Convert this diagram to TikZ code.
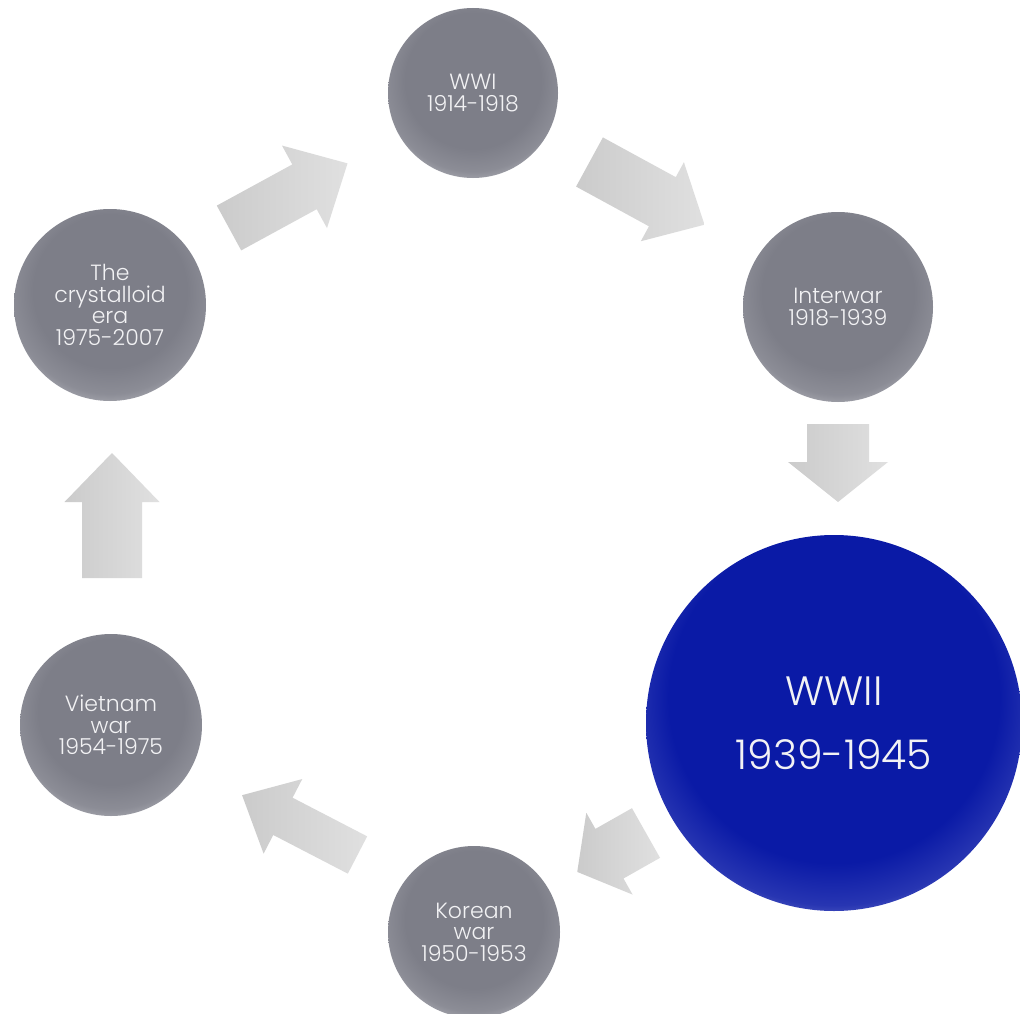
\documentclass[tikz,border=0pt]{standalone}
\usepackage{fontspec}
\setmainfont{Poppins}[UprightFont=* Light]
\definecolor{cgray}{HTML}{7D7E88}
\definecolor{cgraylt}{HTML}{B8B9C0}
\definecolor{cblue}{HTML}{0A1AA6}
\definecolor{cbluelt}{HTML}{8088D6}
\definecolor{arrA}{HTML}{CBCBCB}
\definecolor{arrB}{HTML}{E0E0E0}
\definecolor{txt}{HTML}{F2F2F4}
\pgfdeclareradialshading{graysph}{\pgfpoint{0bp}{6bp}}{color(0bp)=(cgray); color(20bp)=(cgray); color(26bp)=(cgray!75!cgraylt); color(31bp)=(cgraylt); color(50bp)=(cgraylt)}
\pgfdeclareradialshading{bluesph}{\pgfpoint{0bp}{6bp}}{color(0bp)=(cblue); color(22bp)=(cblue); color(27bp)=(cblue!75!cbluelt); color(31bp)=(cbluelt); color(50bp)=(cbluelt)}
\tikzset{
  circ/.style={circle, inner sep=0pt, text=txt, align=center, font=\fontsize{22}{21.5}\selectfont},
  gball/.style={circ, shade, shading=graysph},
  bball/.style={circ, shade, shading=bluesph},
  blockarrow/.style={left color=arrA, right color=arrB, draw=none}
}
% name, x, y, angle, length, shaft width, head width, head length
\newcommand{\blockarr}[8]{%
  \begin{scope}[shift={(#2,#3)}, rotate=#4]
    \path[blockarrow] (0,-#6/2) -- (#5-#8,-#6/2) -- (#5-#8,-#7/2) -- (#5,0)
      -- (#5-#8,#7/2) -- (#5-#8,#6/2) -- (0,#6/2) -- cycle;
    \coordinate (#1) at (#5/2,0);
  \end{scope}}
\begin{document}
\begin{tikzpicture}[x=1pt,y=-1pt]
\useasboundingbox[fill=white] (0,0) rectangle (1020,1014);
% arrows
\blockarr{a1}{229}{228}{28.6}{135}{51}{94}{49}
\blockarr{a2}{589.5}{162}{-28.6}{131}{56}{90}{48}
\blockarr{a3}{838}{424}{-90}{78}{62}{100}{40}
\blockarr{a4}{646}{833}{209.5}{79}{57}{94}{37}
\blockarr{a5}{357.5}{855}{152.6}{130}{42}{84}{46}
\blockarr{a6}{112}{578}{90}{125}{60}{95}{49}
% circles
\node[gball, minimum size=170pt] (wwi) at (473,93) {WWI\\1914-1918};
\node[gball, minimum size=190pt] (inter) at (838,307) {Interwar\\1918-1939};
\node[bball, minimum size=376pt, font=\fontsize{41}{64}\selectfont] (wwii) at (834,723) {WWII\\1939-1945};
\node[gball, minimum size=172pt] (korean) at (474,932) {Korean\\war\\1950-1953};
\node[gball, minimum size=182pt] (vietnam) at (111,725) {Vietnam\\war\\1954-1975};
\node[gball, minimum size=192pt] (cryst) at (110,305) {The\\crystalloid\\era\\1975-2007};
\end{tikzpicture}
\end{document}
